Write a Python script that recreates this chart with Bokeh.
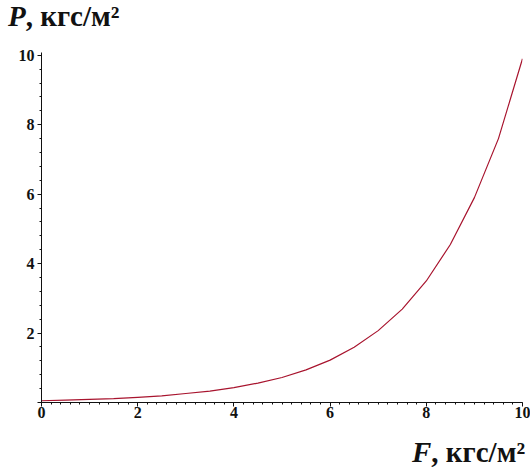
from bokeh.plotting import figure
from bokeh.models import Range1d, SingleIntervalTicker, Div
from bokeh.layouts import column
from bokeh.embed import file_html
from bokeh.resources import INLINE

# Data (F in kgf/m^2, P in kgf/m^2)
F_values = [0, 0.5, 1, 1.5, 2, 2.5, 3, 3.5, 4, 4.5, 5, 5.5, 6, 6.5, 7, 7.5, 8, 8.5, 9, 9.5, 10]
P_values = [0.05, 0.07, 0.09, 0.11, 0.15, 0.19, 0.26, 0.33, 0.43, 0.56, 0.72, 0.94,
            1.22, 1.59, 2.07, 2.69, 3.5, 4.55, 5.9, 7.6, 9.9]
y_title_var = "P"
x_title_var = "F"
unit_text = ", кгс/м²"

SERIF = "Liberation Serif"
W = 530
TOP_H, BOT_H = 40, 40
FIG_H = 388

p = figure(width=W, height=FIG_H, x_range=Range1d(0, 10), y_range=Range1d(0, 10.08),
           output_backend="svg", toolbar_location=None,
           min_border_left=41, min_border_right=W - 41 - 481, min_border_top=12,
           min_border_bottom=FIG_H - 12 - 350)
p.outline_line_color = None
p.xgrid.visible = False
p.ygrid.visible = False

p.line(F_values, P_values, line_color="#A8142E", line_width=1.2)

p.xaxis.ticker = SingleIntervalTicker(interval=2, num_minor_ticks=10)
p.yaxis.ticker = SingleIntervalTicker(interval=2, num_minor_ticks=5)
p.yaxis.major_label_overrides = {0: ""}

for ax in (p.xaxis[0], p.yaxis[0]):
    ax.axis_line_color = "#111111"
    ax.axis_line_width = 1
    ax.major_tick_line_color = "#111111"
    ax.minor_tick_line_color = "#111111"
    ax.major_tick_in = 0
    ax.minor_tick_in = 0
    ax.major_tick_out = 4
    ax.minor_tick_out = 2
    ax.major_label_text_font = SERIF
    ax.major_label_text_font_style = "bold"
    ax.major_label_text_font_size = "16px"
    ax.major_label_text_color = "#111111"
p.xaxis.major_label_standoff = 0
p.yaxis.major_label_standoff = 3


def title_div(var, left, top_off, height):
    html = (f'<div style="position:relative; left:{left}px; top:{top_off}px; line-height:29px; '
            f'white-space:nowrap; font-family:\'{SERIF}\'; font-size:29px; font-weight:bold; '
            f'color:#111111;"><i>{var}</i>{unit_text}</div>')
    return Div(text=html, width=W, height=height, margin=0)


top = title_div(y_title_var, 8, 2, TOP_H)
bottom = title_div(x_title_var, 412, 10, BOT_H)

layout = column(top, p, bottom, spacing=0)
open("out.html", "w").write(file_html(layout, INLINE))
